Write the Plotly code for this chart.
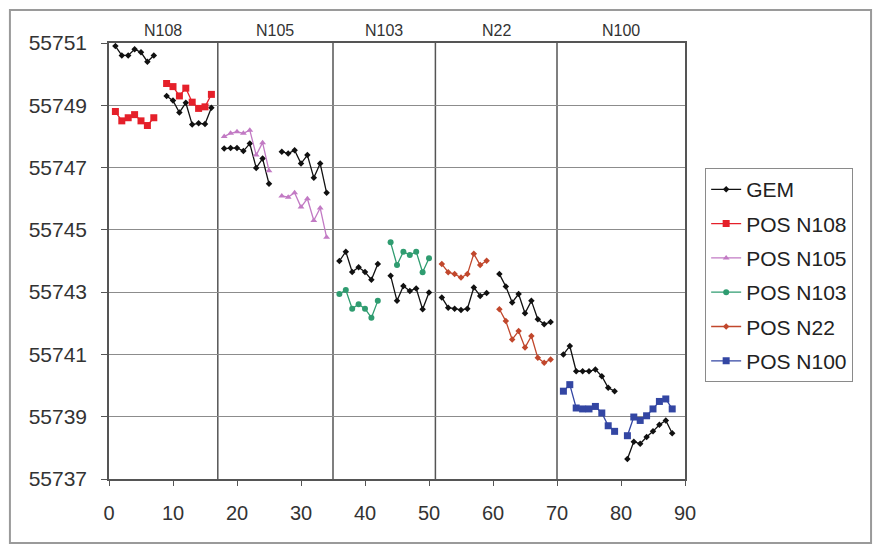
import plotly.graph_objects as go

EPOCH = list(range(1, 89))

GEM = [55750.9, 55750.6, 55750.6, 55750.8, 55750.7, 55750.4, 55750.6, None,
       55749.3, 55749.15, 55748.77, 55749.08, 55748.38, 55748.42, 55748.4, 55748.92, None,
       55747.61, 55747.63, 55747.63, 55747.53, 55747.77, 55746.99, 55747.29, 55746.48, None,
       55747.51, 55747.45, 55747.56, 55747.13, 55747.4, 55746.67, 55747.13, 55746.19, None,
       55744.0, 55744.3, 55743.65, 55743.8, 55743.65, 55743.4, 55743.9, None,
       55743.53, 55742.72, 55743.2, 55743.04, 55743.12, 55742.45, 55742.99, None,
       55742.83, 55742.5, 55742.47, 55742.43, 55742.47, 55743.15, 55742.88, 55742.97, None,
       55743.58, 55743.18, 55742.67, 55742.94, 55742.32, 55742.72, 55742.13, 55741.97, 55742.04, None,
       55741.0, 55741.27, 55740.46, 55740.46, 55740.46, 55740.52, 55740.3, 55739.93, 55739.82, None,
       55737.64, 55738.2, 55738.13, 55738.35, 55738.53, 55738.74, 55738.88, 55738.47]

POS_N108_X = list(range(1, 17))
POS_N108 = [55748.8, 55748.5, 55748.6, 55748.7, 55748.5, 55748.35, 55748.6, None,
            55749.7, 55749.6, 55749.3, 55749.55, 55749.1, 55748.9, 55748.95, 55749.35]

POS_N105_X = list(range(18, 35))
POS_N105 = [55748.0, 55748.1, 55748.15, 55748.1, 55748.2, 55747.4, 55747.8, 55746.9, None,
            55746.09, 55746.05, 55746.19, 55745.73, 55746.0, 55745.3, 55745.7, 55744.76]

POS_N103_X = list(range(36, 51))
POS_N103 = [55742.94, 55743.07, 55742.47, 55742.61, 55742.47, 55742.18, 55742.72, None,
            55744.6, 55743.87, 55744.3, 55744.19, 55744.3, 55743.64, 55744.09]

POS_N22_X = list(range(52, 70))
POS_N22 = [55743.9, 55743.64, 55743.58, 55743.47, 55743.58, 55744.23, 55743.87, 55744.01, None,
           55742.45, 55742.07, 55741.48, 55741.75, 55741.22, 55741.59, 55740.89, 55740.73, 55740.84]

POS_N100_X = list(range(71, 89))
POS_N100 = [55739.82, 55740.03, 55739.28, 55739.25, 55739.25, 55739.33, 55739.12, 55738.71, 55738.53, None,
            55738.39, 55738.99, 55738.88, 55739.03, 55739.25, 55739.49, 55739.57, 55739.25]

BOUNDARIES = [0, 17, 35, 51, 70, 90]
STATION_LABELS = ["N108", "N105", "N103", "N22", "N100"]

FONT = "Liberation Sans, Arial, sans-serif"

series = [
    ("GEM", EPOCH, GEM, "#111111", "diamond", 5),
    ("POS N108", POS_N108_X, POS_N108, "#e5202a", "square", 7),
    ("POS N105", POS_N105_X, POS_N105, "#c27ac4", "triangle-up", 6),
    ("POS N103", POS_N103_X, POS_N103, "#2f9c70", "circle", 6),
    ("POS N22", POS_N22_X, POS_N22, "#c1472c", "diamond", 5),
    ("POS N100", POS_N100_X, POS_N100, "#3346a3", "square", 7),
]

fig = go.Figure()
for i, (name, xs, ys, col, sym, sz) in enumerate(series):
    fig.add_trace(go.Scatter(
        x=xs, y=ys, name=name, mode="lines+markers",
        line=dict(color=col, width=1.3),
        marker=dict(color=col, symbol=sym, size=sz),
        connectgaps=False, legendgroup=f"g{i}",
    ))

shapes = []
for b in BOUNDARIES[1:-1]:
    shapes.append(dict(type="line", xref="x", yref="paper", x0=b, x1=b, y0=0, y1=1,
                       line=dict(color="#555555", width=1.5), layer="below"))
# outer chart border
shapes.append(dict(type="rect", xref="paper", yref="paper",
                   x0=-0.172, x1=1.323, y0=-0.147, y1=1.0757,
                   line=dict(color="#9a9a9a", width=2)))

annotations = []
for lab, a, b in zip(STATION_LABELS, BOUNDARIES[:-1], BOUNDARIES[1:]):
    annotations.append(dict(x=(a + b) / 2, y=1, xref="x", yref="paper", text=lab,
                            showarrow=False, yanchor="bottom", yshift=2,
                            font=dict(family=FONT, size=16, color="#333333")))

fig.update_layout(
    width=876, height=545,
    margin=dict(l=109, r=191, t=43, b=66),
    paper_bgcolor="white", plot_bgcolor="white",
    font=dict(family=FONT, color="#333333"),
    shapes=shapes, annotations=annotations,
    showlegend=True,
    legend=dict(x=1.035, y=0.713, xanchor="left", yanchor="top",
                bordercolor="#8a8a8a", borderwidth=1, bgcolor="white",
                font=dict(family=FONT, size=21, color="#222222"),
                tracegroupgap=4, traceorder="grouped"),
)
fig.update_xaxes(range=[0, 90], dtick=10, tick0=0, showgrid=False,
                 showline=True, linecolor="#555555", linewidth=1.5, mirror=True,
                 ticks="outside", ticklen=5, tickcolor="#555555", ticklabelstandoff=10,
                 tickfont=dict(family=FONT, size=20, color="#333333"), zeroline=False)
fig.update_yaxes(range=[55737, 55751], dtick=2, tick0=55737, tickformat="d",
                 showgrid=True, gridcolor="#8c8c8c", gridwidth=1,
                 showline=True, linecolor="#555555", linewidth=1.5, mirror=True,
                 ticks="outside", ticklen=6, tickcolor="#555555", ticklabelstandoff=10,
                 tickfont=dict(family=FONT, size=21, color="#333333"), zeroline=False)

fig.write_html("out.html", config={"displayModeBar": False},
               post_script="document.body.style.margin='0';")
